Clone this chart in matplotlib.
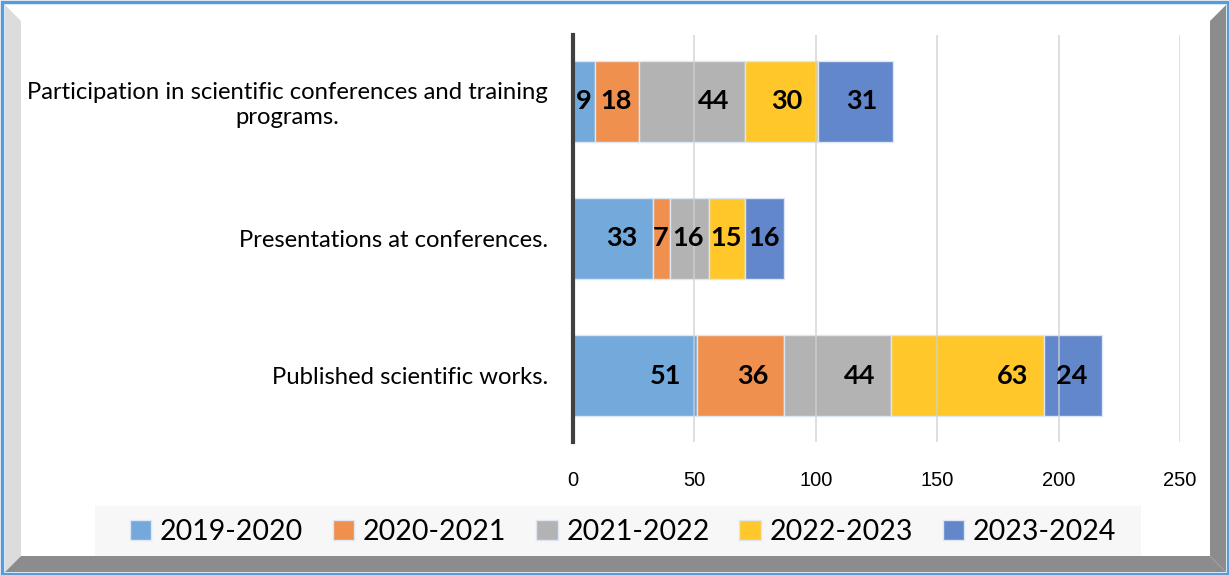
import matplotlib.pyplot as plt
from matplotlib.patches import Rectangle, Polygon

categories = ['Published scientific works.',
              'Presentations at conferences.',
              'Participation in scientific conferences and training\nprograms.']
years = ['2019-2020', '2020-2021', '2021-2022', '2022-2023', '2023-2024']
v2019 = [51, 33, 9]
v2020 = [36, 7, 18]
v2021 = [44, 16, 44]
v2022 = [63, 15, 30]
v2023 = [24, 16, 31]
series = [v2019, v2020, v2021, v2022, v2023]
colors = ['#74a9dc', '#f0904f', '#b3b3b3', '#ffc729', '#6287cb']

narrow = ['Lato', 'DejaVu Sans']

fig = plt.figure(figsize=(12.29, 5.75), dpi=100)
W, H = 1229, 575

def px(x0, y0, x1, y1):
    return (x0 / W, 1 - y1 / H), (x1 - x0) / W, (y1 - y0) / H

# frame: bevel strips and blue border
fig.patches.append(Polygon([(5 / W, 1 - 5 / H), (21 / W, 1 - 21 / H), (21 / W, 1 - 556 / H),
                            (5 / W, 1 - 572 / H)], closed=True, transform=fig.transFigure,
                           facecolor='#dcdcdc', edgecolor='none', zorder=0))
fig.patches.append(Polygon([(5 / W, 1 - 572 / H), (21 / W, 1 - 556 / H), (1210 / W, 1 - 556 / H),
                            (1226 / W, 1 - 572 / H)], closed=True, transform=fig.transFigure,
                           facecolor='#8c8c8c', edgecolor='none', zorder=0))
fig.patches.append(Polygon([(1226 / W, 1 - 5 / H), (1210 / W, 1 - 21 / H), (1210 / W, 1 - 556 / H),
                            (1226 / W, 1 - 572 / H)], closed=True, transform=fig.transFigure,
                           facecolor='#8c8c8c', edgecolor='none', zorder=0))
xy, w, h = px(1.5, 1.5, 1227.5, 573.5)
fig.patches.append(Rectangle(xy, w, h, transform=fig.transFigure, facecolor='none',
                             edgecolor='#5b9bd5', linewidth=2.5, zorder=1))
xy, w, h = px(95, 506, 1141, 556)
fig.patches.append(Rectangle(xy, w, h, transform=fig.transFigure, facecolor='#f7f7f7',
                             edgecolor='none', zorder=0.5))

ax = fig.add_axes([573 / W, 1 - 442 / H, 607 / W, 407 / H])
ax.set_facecolor('none')

ypos = list(range(len(categories)))
left = [0] * len(categories)
handles = []
upx = 607 / 250  # pixels per data unit
for vals, col, yr in zip(series, colors, years):
    bars = ax.barh(ypos, vals, left=left, height=0.585, color=col,
                   edgecolor='#dde6f2', linewidth=1, zorder=2, label=yr)
    handles.append(bars)
    for y, v, l in zip(ypos, vals, left):
        wpx = v * upx
        tw = 14.5 * len(str(v))
        pad = max(0, min(16, (wpx - tw) / 2))
        ax.text(l + v - pad / upx, y, str(v), ha='right', va='center',
                fontsize=19.5, fontweight='bold', family=narrow, color='black', zorder=4)
    left = [a + b for a, b in zip(left, vals)]

ax.set_xlim(0, 250)
ax.set_ylim(-0.485, 2.485)
ax.set_xticks([0, 50, 100, 150, 200, 250])
ax.grid(axis='x', color='#d0d0d0', linewidth=1.2, alpha=0.8, zorder=3)
ax.set_axisbelow(False)
ax.set_yticks(ypos)
ax.set_yticklabels(categories, fontsize=17.2, family=narrow, multialignment='center')
ax.tick_params(axis='y', length=0, pad=18)
ax.tick_params(axis='x', length=0, pad=21, labelsize=14.5)
for t in ax.get_xticklabels():
    t.set_family(['Liberation Sans', 'DejaVu Sans'])
for s in ['top', 'right', 'bottom']:
    ax.spines[s].set_visible(False)
ax.spines['left'].set_color('#404040')
ax.spines['left'].set_linewidth(3)
ax.spines['left'].set_zorder(5)

fig.legend(handles=handles, labels=years, loc='center', bbox_to_anchor=(623 / W, 1 - 532 / H),
           ncol=5, frameon=False, prop={'family': narrow, 'size': 20.5},
           handlelength=0.75, handleheight=0.75, handletextpad=0.3, columnspacing=1.05)

fig.savefig('out.png', dpi=100)
